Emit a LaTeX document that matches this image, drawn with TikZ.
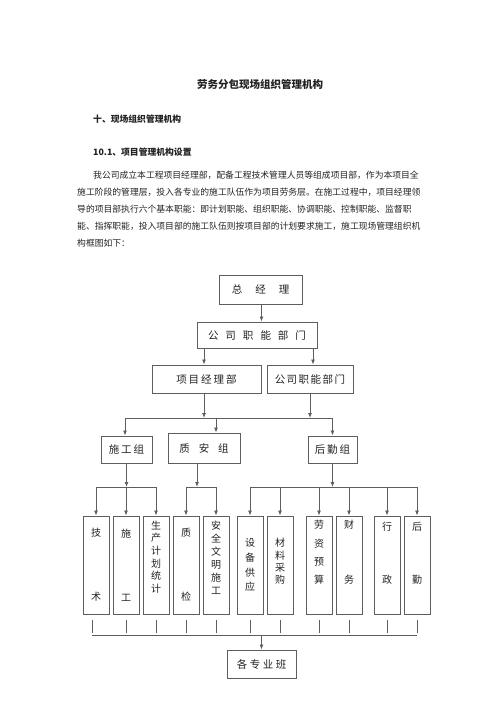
\documentclass[tikz,border=0pt]{standalone}
\usepackage{fontspec}
\setmainfont{Noto Sans CJK SC}
\usetikzlibrary{arrows.meta}
\definecolor{linec}{HTML}{5E5E5E}
\definecolor{txtc}{HTML}{222222}
\begin{document}
\begin{tikzpicture}[x=1pt,y=-1pt,
  box/.style={draw=linec, line width=0.9pt, inner sep=0pt, rectangle, text=txtc, font=\fontsize{10.5}{12}\selectfont},
  vbox/.style={box, minimum width=26, minimum height=98},
  vt/.style={inner sep=0pt, align=center, text=txtc},
  ln/.style={draw=linec, line width=0.85pt},
  arr/.style={ln, -{Latex[length=5pt,width=4pt]}},
  para/.style={anchor=west, inner sep=0pt, text=txtc, font=\fontsize{8.8}{10}\selectfont},
  head/.style={anchor=west, inner sep=0pt, text=txtc, font=\fontsize{8.8}{10}\selectfont\bfseries}]
\useasboundingbox (0,0) rectangle (500,707);
% texts
\node[inner sep=0pt, text=txtc, font=\fontsize{10.5}{12}\selectfont\bfseries] (title) at (260,84) {劳务分包现场组织管理机构};
\node[head] (h1) at (93,119) {十、现场组织管理机构};
\node[head] (h2) at (93,152) {10.1、项目管理机构设置};
\node[para] (p1) at (93,175) {我公司成立本工程项目经理部，配备工程技术管理人员等组成项目部，作为本项目全};
\node[para] (p2) at (77,192) {施工阶段的管理层，投入各专业的施工队伍作为项目劳务层。在施工过程中，项目经理领};
\node[para] (p3) at (77,209) {导的项目部执行六个基本职能：即计划职能、组织职能、协调职能、控制职能、监督职};
\node[para] (p4) at (77,226) {能、指挥职能，投入项目部的施工队伍则按项目部的计划要求施工，施工现场管理组织机};
\node[para] (p5) at (77,243) {构框图如下：};
% upper boxes
\node[box, minimum width=83, minimum height=29] (zjl) at (260.5,289.5) {总\hspace{13pt}经\hspace{13pt}理};
\node[box, minimum width=120, minimum height=26] (gs1) at (257,335) {公\hspace{7pt}司\hspace{7pt}职\hspace{7pt}能\hspace{7pt}部\hspace{7pt}门};
\node[box, minimum width=109, minimum height=28] (xm) at (206.5,379) {项\hspace{2pt}目\hspace{2pt}经\hspace{2pt}理\hspace{2pt}部};
\node[box, minimum width=86, minimum height=28] (gs2) at (310,379) {公\hspace{1.5pt}司\hspace{1.5pt}职\hspace{1.5pt}能\hspace{1.5pt}部\hspace{1.5pt}门};
\node[box, minimum width=51, minimum height=27] (sg) at (126.5,449.5) {施\hspace{2pt}工\hspace{2pt}组};
\node[box, minimum width=72, minimum height=30] (za) at (204,448) {质\hspace{9pt}安\hspace{9pt}组};
\node[box, minimum width=49, minimum height=27] (hq) at (332.5,449.5) {后\hspace{2pt}勤\hspace{2pt}组};
% bottom boxes
\node[vbox] (b1) at (96,565) {};
\node[vbox] (b2) at (126,565) {};
\node[vbox] (b3) at (156,565) {};
\node[vbox] (b4) at (186,565) {};
\node[vbox] (b5) at (216,565) {};
\node[vbox] (b6) at (250,565) {};
\node[vbox] (b7) at (280,565) {};
\node[vbox] (b8) at (319,565) {};
\node[vbox] (b9) at (349,565) {};
\node[vbox] (b10) at (387,565) {};
\node[vbox] (b11) at (417,565) {};
\node[vt, font=\fontsize{10}{64}\selectfont] (t1) at (96,565) {技\\术};
\node[vt, font=\fontsize{10}{64}\selectfont] (t2) at (126,565) {施\\工};
\node[vt, font=\fontsize{10}{12.6}\selectfont] (t3) at (156,557) {生\\产\\计\\划\\统\\计};
\node[vt, font=\fontsize{10}{64}\selectfont] (t4) at (186,565) {质\\检};
\node[vt, font=\fontsize{10}{13}\selectfont] (t5) at (216,557.5) {安\\全\\文\\明\\施\\工};
\node[vt, font=\fontsize{10}{14.7}\selectfont] (t6) at (250,565) {设\\备\\供\\应};
\node[vt, font=\fontsize{10}{12.3}\selectfont] (t7) at (280,561.5) {材\\料\\采\\购};
\node[vt, font=\fontsize{10}{18.3}\selectfont] (t8) at (319,552.5) {劳\\资\\预\\算};
\node[vt, font=\fontsize{10}{55}\selectfont] (t9) at (349,552.5) {财\\务};
\node[vt, font=\fontsize{10}{53}\selectfont] (t10) at (387,553.5) {行\\政};
\node[vt, font=\fontsize{10}{53}\selectfont] (t11) at (417,553.5) {后\\勤};
\node[box, minimum width=69, minimum height=28] (bz) at (261.5,664) {各\hspace{2.5pt}专\hspace{2.5pt}业\hspace{2.5pt}班};
% connectors
\draw[arr] ([xshift=1pt]zjl.south) -- ([xshift=1pt]zjl.south |- gs1.north);
\draw[arr] ([xshift=-2.5pt]xm.north |- gs1.south) -- ([xshift=-2.5pt]xm.north);
\draw[arr] ([xshift=3pt]gs2.north |- gs1.south) -- ([xshift=3pt]gs2.north);
\coordinate (r1) at (0,418);
\coordinate (bZ) at (216,418);
\draw[arr] ([xshift=-2.5pt]xm.south) -- ([xshift=-2.5pt]xm.south |- r1);
\draw[arr] (gs2.south) -- (gs2.south |- r1);
\draw[ln] ([xshift=-1.5pt]sg.north |- r1) -- (hq.north |- r1);
\draw[arr] ([xshift=-1.5pt]sg.north |- r1) -- ([xshift=-1.5pt]sg.north);
\draw[arr] (bZ) -- (bZ |- za.north);
\draw[arr] (hq.north |- r1) -- (hq.north);
\coordinate (r2) at (0,487);
\draw[arr] (sg.south) -- (sg.south |- r2);
\draw[ln] (b1.north |- r2) -- (b3.north |- r2);
\draw[arr] ([xshift=-7pt]za.south) -- ([xshift=-7pt]za.south |- r2);
\draw[ln] (b4.north |- r2) -- (b5.north |- r2);
\draw[arr] (hq.south) -- (hq.south |- r2);
\draw[ln] (b6.north |- r2) -- (b11.north |- r2);
\foreach \b in {b1,b2,b3,b4,b5,b6,b7,b8,b9,b10,b11}
  \draw[arr] (\b.north |- r2) -- (\b.north);
% bottom ticks and bus
\coordinate (r3) at (0,635);
\draw[ln, line width=0.7pt] ([xshift=-4pt]b1.south) ++(0,6) -- ++(0,13);
\foreach \b in {b2,b3,b4,b5,b6,b7,b8,b9,b10,b11}
  \draw[ln, line width=0.7pt] (\b.south) ++(0,6) -- ++(0,13);
\draw[ln] ([xshift=-4pt]b1.south |- r3) -- (b11.south |- r3);
\draw[arr] (bz.north |- r3) -- (bz.north);
\end{tikzpicture}
\end{document}
